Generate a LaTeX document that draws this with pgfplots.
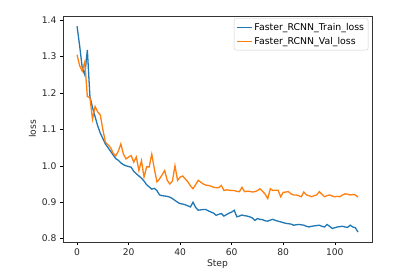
\documentclass[border=0pt]{standalone}
\usepackage{pgfplots}
\pgfplotsset{compat=1.18}
\usepackage{pgfplotstable}
\usepackage{fontspec}
\setmainfont{DejaVu Sans}
\definecolor{mplblue}{HTML}{1F77B4}
\definecolor{mplorange}{HTML}{FF7F0E}
\pgfplotstableread{
step train val
0 1.383 1.305
1 1.33 1.275
2 1.27 1.26
3 1.25 1.285
4 1.318 1.19
5 1.19 1.187
6 1.16 1.128
7 1.135 1.163
8 1.11 1.148
9 1.09 1.14
10 1.075 1.1
11 1.06 1.065
12 1.05 1.058
13 1.04 1.05
14 1.03 1.035
15 1.02 1.027
16 1.015 1.04
17 1.008 1.06
18 1.003 1.032
19 1.0 1.019
20 0.998 1.024
21 0.996 1.028
22 0.985 1.01
23 0.978 1.024
24 0.972 0.987
25 0.966 1.014
26 0.958 0.969
27 0.948 0.997
28 0.942 0.997
29 0.936 1.032
30 0.938 0.991
31 0.932 0.956
32 0.92 0.964
33 0.918 0.975
34 0.917 0.987
35 0.916 0.96
36 0.914 0.95
37 0.91 0.958
38 0.905 1.0
39 0.9 0.96
40 0.896 0.969
41 0.895 0.972
42 0.893 0.964
43 0.89 0.956
44 0.887 0.945
45 0.9 0.937
46 0.886 0.948
47 0.878 0.96
48 0.879 0.955
49 0.88 0.95
50 0.88 0.947
51 0.876 0.946
52 0.873 0.944
53 0.87 0.941
54 0.864 0.94
55 0.867 0.94
56 0.869 0.946
57 0.862 0.932
58 0.866 0.934
59 0.87 0.933
60 0.873 0.932
61 0.878 0.932
62 0.86 0.93
63 0.862 0.929
64 0.865 0.941
65 0.863 0.929
66 0.862 0.93
67 0.86 0.93
68 0.857 0.928
69 0.85 0.929
70 0.855 0.932
71 0.853 0.937
72 0.852 0.93
73 0.849 0.922
74 0.848 0.91
75 0.851 0.937
76 0.853 0.932
77 0.85 0.933
78 0.848 0.933
79 0.846 0.915
80 0.844 0.927
81 0.842 0.928
82 0.841 0.929
83 0.84 0.923
84 0.837 0.92
85 0.838 0.92
86 0.839 0.918
87 0.838 0.915
88 0.837 0.928
89 0.834 0.92
90 0.832 0.918
91 0.834 0.915
92 0.835 0.918
93 0.836 0.92
94 0.837 0.929
95 0.834 0.922
96 0.832 0.915
97 0.839 0.918
98 0.834 0.92
99 0.828 0.917
100 0.83 0.915
101 0.832 0.916
102 0.833 0.915
103 0.834 0.92
104 0.832 0.923
105 0.831 0.922
106 0.837 0.92
107 0.832 0.921
108 0.83 0.92
109 0.818 0.914
}\losstable
\begin{document}
\begin{tikzpicture}
\useasboundingbox (-63bp,-33bp) rectangle (337bp,242bp);
\begin{axis}[
  at={(0,0)}, anchor=south west,
  scale only axis,
  width=309bp, height=226bp,
  xmin=-5.45, xmax=114.45,
  ymin=0.7908, ymax=1.4112,
  xtick={0,20,40,60,80,100},
  ytick={0.8,0.9,1.0,1.1,1.2,1.3,1.4},
  yticklabel style={/pgf/number format/.cd,fixed,fixed zerofill,precision=1},
  /pgf/number format/assume math mode=true,
  tick label style={font=\fontsize{9.2}{11}\selectfont, color=black!85},
  label style={font=\fontsize{9.2}{11}\selectfont, color=black!85},
  tick align=outside,
  tick pos=left,
  major tick length=3bp,
  every tick/.style={black, line width=0.5bp},
  axis line style={line width=0.6bp, black!80},
  xlabel={Step},
  ylabel={loss},
  xlabel style={yshift=3bp},
  ylabel style={yshift=-1bp},
  legend cell align=left,
  legend style={
    at={(0.988,0.99)}, anchor=north east,
    draw=black!20, rounded corners=2bp, fill=white, fill opacity=0.8, text opacity=1,
    font=\fontsize{9.4}{11}\selectfont,
    inner xsep=2bp, inner ysep=2.5bp,
    row sep=1.5bp,
  },
  legend image code/.code={\draw[#1] (0bp,0bp) -- (15bp,0bp);},
]
\addplot[mplblue, line width=1.3bp] table[x=step, y=train] {\losstable};
\addlegendentry{Faster\_RCNN\_Train\_loss}
\addplot[mplorange, line width=1.3bp] table[x=step, y=val] {\losstable};
\addlegendentry{Faster\_RCNN\_Val\_loss}
\end{axis}
\end{tikzpicture}
\end{document}
